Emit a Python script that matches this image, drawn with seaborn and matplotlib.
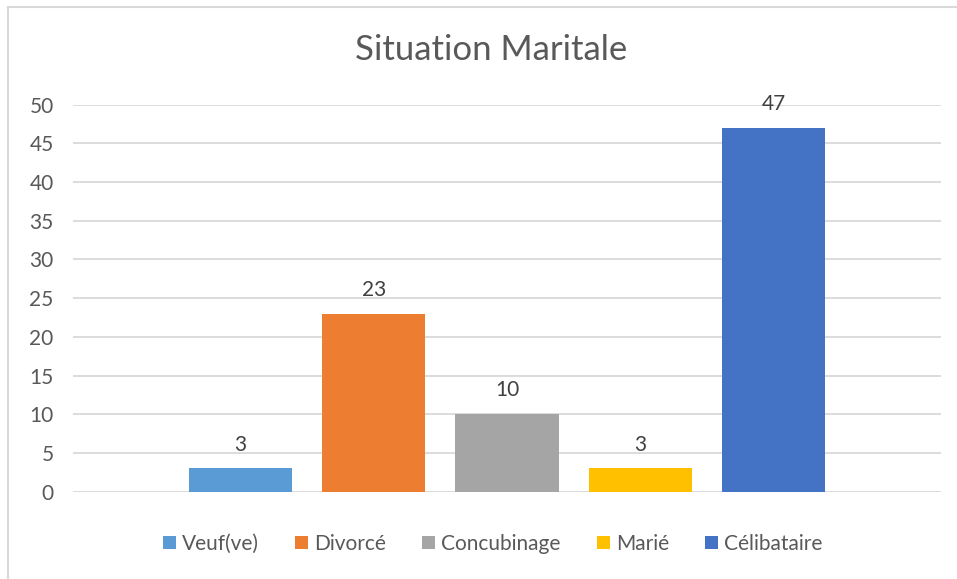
import matplotlib.pyplot as plt
import seaborn as sns
from matplotlib.patches import Patch
from matplotlib.lines import Line2D

# Data
categories = ["Veuf(ve)", "Divorcé", "Concubinage", "Marié", "Célibataire"]
values = [3, 23, 10, 3, 47]
colors = ["#5B9BD5", "#ED7D31", "#A5A5A5", "#FFC000", "#4472C4"]
yticks = [0, 5, 10, 15, 20, 25, 30, 35, 40, 45, 50]

sns.set_theme(style="white")
plt.rcParams["font.family"] = ["Lato", "DejaVu Sans"]

fig = plt.figure(figsize=(9.57, 5.79), dpi=100)
ax = fig.add_axes([0.0763, 0.1508, 0.9070, 0.6684])

sns.barplot(x=categories, y=values, hue=categories, palette=colors,
            width=0.775, legend=False, ax=ax, saturation=1, edgecolor="none")

for c in ax.containers:
    ax.bar_label(c, padding=10, fontsize=15, color="#404040")

ax.set_xlim(-1.257, 5.257)
ax.set_ylim(0, 50)
ax.set_yticks(yticks)
ax.yaxis.grid(True, color="#d9d9d9", linewidth=1.3)
ax.set_axisbelow(True)
ax.set_xticks([])
ax.set_xlabel("")
ax.set_ylabel("")
ax.tick_params(axis="y", labelsize=15, labelcolor="#595959", length=0, pad=14)
for s in ax.spines.values():
    s.set_visible(False)

fig.text(0.513, 1 - 50 / 579, "Situation Maritale", ha="center", va="center",
         fontsize=25, color="#595959")

handles = [Patch(facecolor=col, edgecolor="none") for col in colors]
fig.legend(handles, categories, loc="center", bbox_to_anchor=(0.515, 1 - 544 / 579),
           ncol=5, frameon=False, fontsize=15, labelcolor="#595959",
           handlelength=0.6, handleheight=0.6, handletextpad=0.3, columnspacing=1.75)

# chart frame (top and left edges)
fig.add_artist(Line2D([8 / 957, 1], [1 - 7 / 579, 1 - 7 / 579], color="#d9d9d9", linewidth=1.5))
fig.add_artist(Line2D([8 / 957, 8 / 957], [0, 1 - 7 / 579], color="#d9d9d9", linewidth=1.5))

plt.savefig("out.png", dpi=100)
